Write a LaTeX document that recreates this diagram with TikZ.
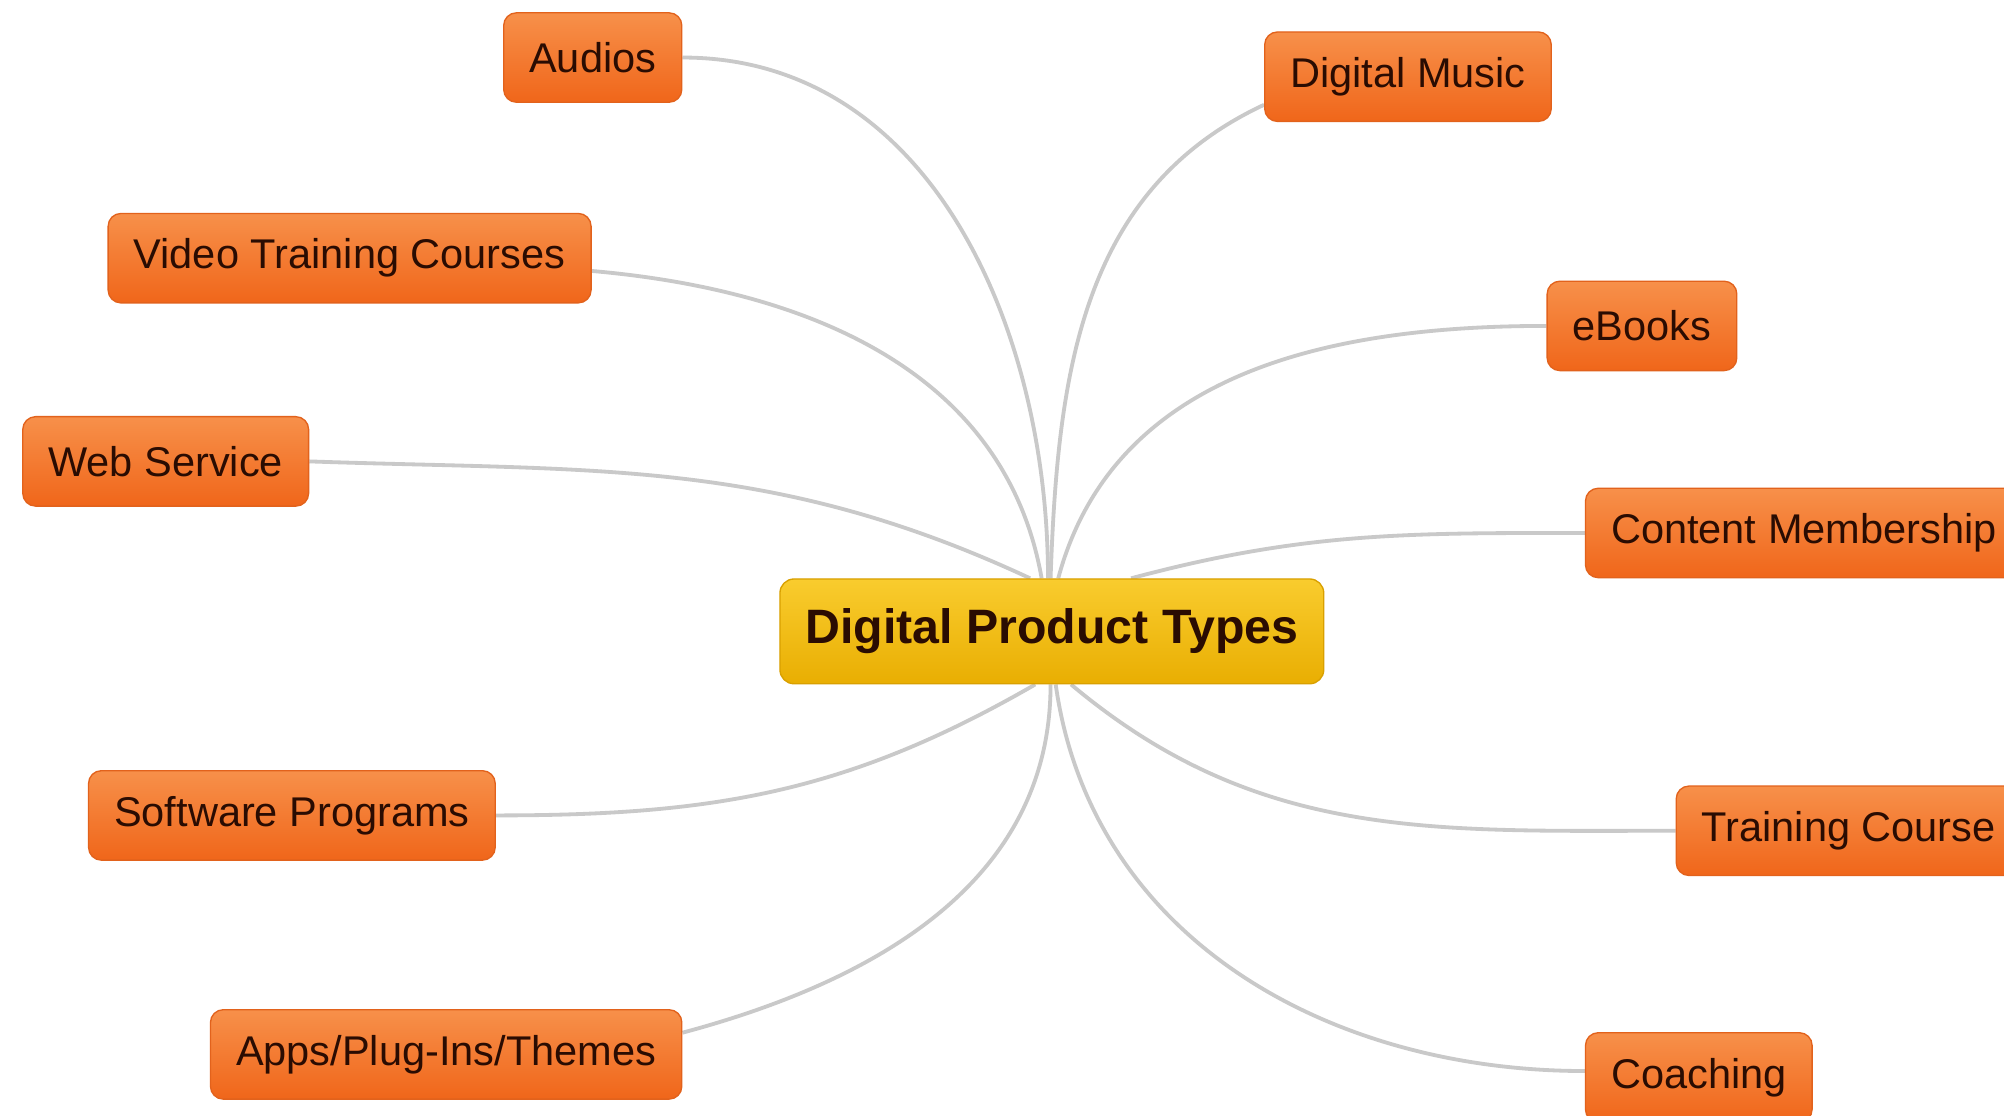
\documentclass[tikz,border=0pt]{standalone}
\usepackage{fontspec}
\setmainfont{Liberation Sans}
\usetikzlibrary{calc,backgrounds}
\definecolor{leaftop}{HTML}{F7904A}
\definecolor{leafbot}{HTML}{F0661A}
\definecolor{leafline}{HTML}{E2621C}
\definecolor{hubtop}{HTML}{F9CC2E}
\definecolor{hubbot}{HTML}{E9AE02}
\definecolor{hubline}{HTML}{D9A000}
\definecolor{linkgray}{HTML}{C9C9C9}
\definecolor{txt}{HTML}{2A0C02}
\begin{document}
\begin{tikzpicture}[x=0.02cm,y=0.02cm,
  leaf/.style={rounded corners=0.2cm,draw=leafline,line width=0.6pt,top color=leaftop,bottom color=leafbot,minimum height=1.4cm,inner xsep=0.4cm,text=txt,font=\fontsize{18.5}{22}\selectfont},
  hub/.style={rounded corners=0.22cm,draw=hubline,line width=0.6pt,top color=hubtop,bottom color=hubbot,minimum height=1.64cm,inner xsep=0.4cm,text=txt,font=\fontsize{21.5}{26}\selectfont\bfseries},
  link/.style={draw=linkgray,line width=1.7pt}]
\useasboundingbox (0,0) rectangle (1568,-873);
\clip (0,0) rectangle (1568,-873);
\node[hub] (dpt) at (823,-494) {Digital Product Types};
\node[leaf,anchor=east] (audios) at (534,-45) {Audios};
\node[leaf,anchor=west] (music) at (989,-60) {Digital Music};
\node[leaf,anchor=east] (video) at (463,-202) {Video Training Courses};
\node[leaf,anchor=west] (ebooks) at (1210,-255) {eBooks};
\node[leaf,anchor=east] (web) at (242,-361) {Web Service};
\node[leaf,anchor=west] (member) at (1240,-417) {Content Membership};
\node[leaf,anchor=east] (soft) at (388,-638) {Software Programs};
\node[leaf,anchor=west] (train) at (1311,-650) {Training Course};
\node[leaf,anchor=east] (apps) at (534,-825) {Apps/Plug-Ins/Themes};
\node[leaf,anchor=west] (coach) at (1240,-843) {Coaching};
\begin{scope}[on background layer]
\fill[white] (0,0) rectangle (1568,-873);
\draw[link] (audios.east) to[out=0,in=90] ($(dpt.north)+(-3,0)$);
\draw[link] ($(music.west)+(0,-22)$) to[out=205,in=88] ($(dpt.north)+(-1,0)$);
\draw[link] ($(video.east)+(0,-10)$) to[out=-5,in=100] ($(dpt.north)+(-8,0)$);
\draw[link] (web.east) to[out=-2,in=155] ($(dpt.north)+(-17,0)$);
\draw[link] (ebooks.west) to[out=180,in=75] ($(dpt.north)+(5,0)$);
\draw[link] (member.west) to[out=180,in=15] ($(dpt.north)+(62,0)$);
\draw[link] (soft.east) to[out=0,in=-150] ($(dpt.south)+(-13,0)$);
\draw[link] ($(apps.east)+(0,17)$) to[out=15,in=-90] ($(dpt.south)+(-1,0)$);
\draw[link] (train.west) to[out=180,in=-40] ($(dpt.south)+(15,0)$);
\draw[link] ($(coach.west)+(0,5)$) to[out=180,in=-82] ($(dpt.south)+(3,0)$);
\end{scope}
\end{tikzpicture}
\end{document}
